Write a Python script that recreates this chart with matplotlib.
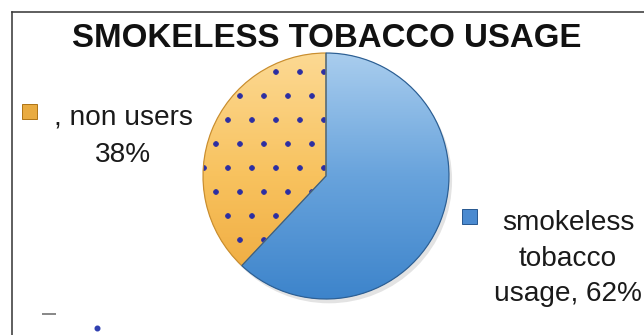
import matplotlib.pyplot as plt
import numpy as np
from matplotlib.colors import LinearSegmentedColormap
from matplotlib.lines import Line2D
from matplotlib.patches import Wedge, Rectangle, Circle

# data
categories = [", non users", "smokeless tobacco usage"]
shares = [38, 62]
# data labels as they are wrapped on the chart
label_lines = [[", non users", "38%"], ["smokeless", "tobacco", "usage, 62%"]]
title = "SMOKELESS TOBACCO USAGE"

colors = ["#f7be55", "#5b9bd5"]
grad_colors = [["#eea83c", "#f8c25e", "#fcd993"], ["#3d84cb", "#68a3dc", "#a9cdee"]]
edge_colors = ["#c98e30", "#2d5f93"]
dot_color = "#2c2ea2"

W, H, DPI = 644, 335, 144
plt.rcParams["font.family"] = ["Liberation Sans", "DejaVu Sans"]
plt.rcParams["hatch.linewidth"] = 0.4


def fx(px):
    return px / W


def fy(py):
    return 1 - py / H


def pt(px):
    return px * 72 / DPI


fig = plt.figure(figsize=(W / DPI, H / DPI), dpi=DPI)

# frame of the chart area (cut off at right and bottom)
fig.add_artist(Line2D([fx(11.5), fx(11.5)], [fy(12), 0], color="#3c3c3c", lw=pt(1.6)))
fig.add_artist(Line2D([fx(11.5), 1], [fy(12), fy(12)], color="#3c3c3c", lw=pt(1.6)))

fig.text(fx(327), fy(47), title, ha="center", va="baseline",
         fontsize=pt(33), fontweight="bold", color="#111111")

# pie axes: centre (326, 176), radius 123 px, with some margin
R, M = 123, 8
ax = fig.add_axes([fx(326 - R - M), fy(176 + R + M), 2 * (R + M) / W, 2 * (R + M) / H])
ax.add_patch(Circle((0.025, -0.035), 1.0, color="#b0b0b0", alpha=0.35, lw=0, zorder=0))
wedges, _ = ax.pie(shares, colors=colors, startangle=90, radius=1,
                   wedgeprops=dict(linewidth=0, zorder=1))

grad = np.linspace(0, 1, 256).reshape(-1, 1)
for i, w in enumerate(wedges):
    cmap = LinearSegmentedColormap.from_list("g%d" % i, grad_colors[i])
    im = ax.imshow(grad, extent=(-1, 1, -1, 1), origin="lower", cmap=cmap,
                   aspect="auto", zorder=2, interpolation="bilinear")
    im.set_clip_path(w)
    outline = Wedge(w.center, w.r, w.theta1, w.theta2, facecolor="none",
                    edgecolor=edge_colors[i], lw=pt(1.2), zorder=4)
    ax.add_patch(outline)

# dotted pattern on the non users slice
w = wedges[0]
dots = Wedge(w.center, w.r, w.theta1, w.theta2, facecolor="none",
             edgecolor=dot_color, lw=0, hatch=".", zorder=3)
ax.add_patch(dots)

lim = (R + M) / R
ax.set_xlim(-lim, lim)
ax.set_ylim(-lim, lim)
ax.axis("off")

# data labels with legend keys
keys = [(22, 104, 15), (462, 209, 15)]
key_edges = ["#b07618", "#2a5a92"]
key_faces = ["#e9ab40", "#4a8ad0"]
for (kx, ky, ks), fc, ec in zip(keys, key_faces, key_edges):
    fig.add_artist(Rectangle((fx(kx), fy(ky + ks)), ks / W, ks / H, transform=fig.transFigure,
                             facecolor=fc, edgecolor=ec, lw=pt(1)))

label_pos = [(123, 125, 37), (568, 230, 35.5)]
for lines, (cx, base, step) in zip(label_lines, label_pos):
    for j, line in enumerate(lines):
        fig.text(fx(cx), fy(base + j * step), line, ha="center", va="baseline",
                 fontsize=pt(28), color="#1a1a1a")

# remains of a cut-off legend in the lower left
fig.add_artist(Line2D([fx(43), fx(55)], [fy(314), fy(314)], color="#8a8a8a", lw=pt(2)))
fig.add_artist(Line2D([fx(97)], [fy(328)], marker="o", ms=pt(4), color="#3040b0", lw=0))

fig.savefig("out.png", dpi=DPI)
